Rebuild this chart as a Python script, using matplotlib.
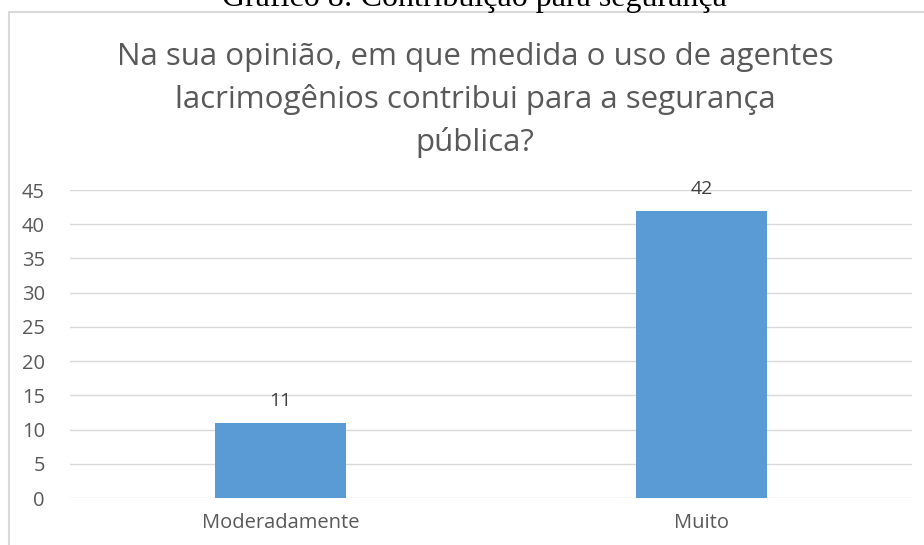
import matplotlib.pyplot as plt
from matplotlib.patches import Rectangle

categories = ['Moderadamente', 'Muito']
values = [11, 42]
yticks = [0, 5, 10, 15, 20, 25, 30, 35, 40, 45]
title_lines = ['Na sua opinião, em que medida o uso de agentes',
               'lacrimogênios contribui para a segurança',
               'pública?']
caption = 'Gráfico 8: Contribuição para segurança'

plt.rcParams['font.family'] = ['Open Sans', 'DejaVu Sans']

W, H = 924, 545
fig = plt.figure(figsize=(W / 100, H / 100), dpi=100)

# chart frame (partly outside the picture)
fig.patches.append(Rectangle((9 / W, -0.1), 1.2, 1 - 12 / H + 0.1,
                             transform=fig.transFigure, fill=False,
                             edgecolor='#d9d9d9', linewidth=1.5))

# document caption, cut at the top edge
fig.text(474 / W, 1 - 6 / H, caption, ha='center', va='baseline',
         fontsize=23, family='Liberation Serif', color='black')

for i, line in enumerate(title_lines):
    fig.text(475 / W, 1 - (65 + 43 * i) / H, line, ha='center',
             va='baseline', fontsize=22.5, color='#595959')

ax = fig.add_axes([70 / W, 1 - 498 / H, 842 / W, 308 / H])
x = range(len(categories))
bars = ax.bar(x, values, width=0.31, color='#5b9bd5', zorder=3)
for b, v in zip(bars, values):
    ax.text(b.get_x() + b.get_width() / 2, v + 1.8, str(v), ha='center',
            va='bottom', fontsize=14, color='#404040')

ax.set_xlim(-0.5, 1.5)
ax.set_ylim(0, 45)
ax.set_yticks(yticks)
ax.set_xticks(list(x))
ax.set_xticklabels(categories)
ax.grid(axis='y', color='#d9d9d9', linewidth=1, zorder=0)
for s in ax.spines.values():
    s.set_visible(False)
ax.tick_params(axis='both', length=0, labelcolor='#595959')
ax.tick_params(axis='y', pad=18, labelsize=14.5)
ax.tick_params(axis='x', pad=11, labelsize=14.5)

fig.savefig('out.png', dpi=100)
